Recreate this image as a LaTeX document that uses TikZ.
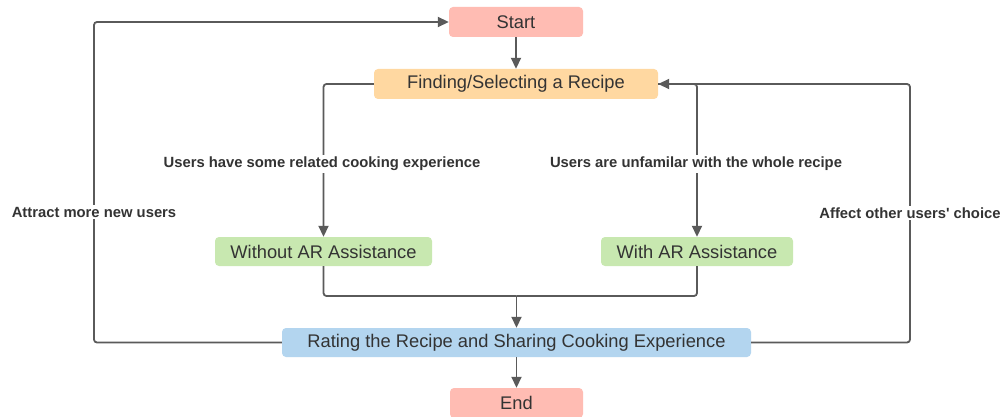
\documentclass[tikz,border=0pt]{standalone}
\usepackage{fontspec}
\setmainfont{Liberation Sans}
% plain family without TeX ligature mapping, so ' stays a straight quote
\newfontfamily\tagfont{Liberation Sans}
\usetikzlibrary{arrows.meta}
\definecolor{startred}{HTML}{FFBCB3}
\definecolor{findorange}{HTML}{FFD8A1}
\definecolor{argreen}{HTML}{C8E8B0}
\definecolor{rateblue}{HTML}{B3D5EF}
\definecolor{inkgray}{HTML}{333333}
\definecolor{linegray}{HTML}{5A5A5A}
\tikzset{
  box/.style={rounded corners=4pt, inner sep=0pt, text=inkgray,
    font=\fontsize{18.3}{20}\selectfont, draw=none},
  flow/.style={draw=linegray, line width=1.8pt, rounded corners=3pt,
    -{Triangle[length=11pt,width=10pt]}},
  link/.style={draw=linegray, line width=1.8pt, rounded corners=3pt},
  tag/.style={fill=white, inner sep=2pt, text=inkgray,
    font=\tagfont\fontsize{14.8}{16}\selectfont\bfseries}
}
\begin{document}
\begin{tikzpicture}[x=1pt,y=-1pt]
  \useasboundingbox[fill=white] (0,0) rectangle (1002,417);

  % process boxes
  \node[box, fill=startred, minimum width=134pt, minimum height=30pt] (start) at (516,22) {Start};
  \node[box, fill=findorange, minimum width=284pt, minimum height=30pt] (find) at (516,84) {Finding/Selecting a Recipe};
  \node[box, fill=argreen, minimum width=217pt, minimum height=29pt] (noar) at (323.5,251.5) {Without AR Assistance};
  \node[box, fill=argreen, minimum width=192pt, minimum height=29pt] (withar) at (697,251.5) {With AR Assistance};
  \node[box, fill=rateblue, minimum width=469pt, minimum height=29pt] (rate) at (516.5,342.5) {Rating the Recipe and Sharing Cooking Experience};
  \node[box, fill=startred, minimum width=133pt, minimum height=30pt] (end) at (516.5,403) {End};

  % routing points
  \coordinate (merge) at (516.5,296);
  \coordinate (leftloop) at (94,212);
  \coordinate (rightloop) at (910,213);

  % main flow
  \draw[flow] (start) -- (find);
  \draw[flow] (find.west) -| (noar.north);
  \draw[flow] (find.east) -| (withar.north);
  \draw[link] (noar.south) |- (merge);
  \draw[link] (withar.south) |- (merge);
  \draw[flow] (merge) -- (rate.north);
  \draw[flow] (rate) -- (end);

  % feedback loops
  \draw[flow] (rate.west) -| (leftloop) |- (start.west);
  \draw[flow] (rate.east) -| (rightloop) |- (find.east);

  % connector labels
  \node[tag] (lblhave) at (322,164) {Users have some related cooking experience};
  \node[tag] (lblunfam) at (696,164) {Users are unfamilar with the whole recipe};
  \node[tag] (lblattract) at (94,212) {Attract more new users};
  \node[tag] (lblaffect) at (910,213) {Affect other users' choice};
\end{tikzpicture}
\end{document}
